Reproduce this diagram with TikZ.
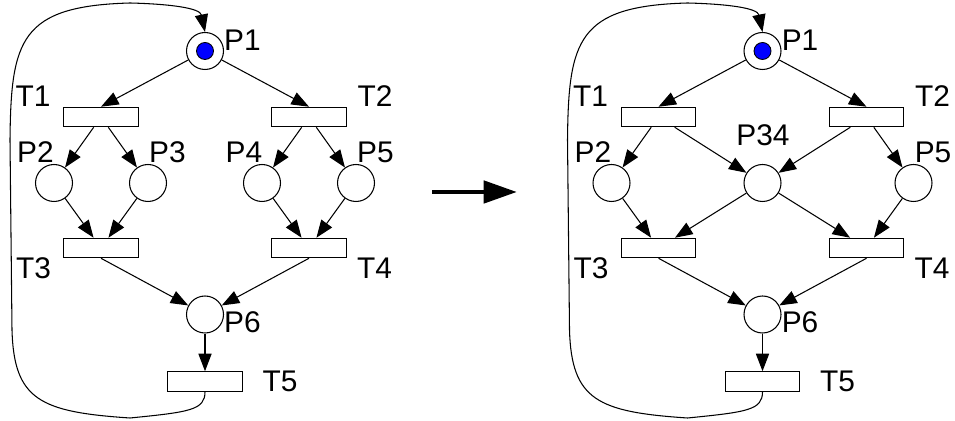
\documentclass[tikz,border=0pt]{standalone}
\usepackage{fontspec}
\setmainfont{Liberation Sans}
\usetikzlibrary{arrows.meta}
\tikzset{
    place/.style={circle, draw, line width=0.6pt, minimum size=7.4mm, inner sep=0},
    trans/.style={rectangle, draw, line width=0.6pt, minimum width=14.9mm, minimum height=3.9mm, inner sep=0},
    token/.style={circle, draw, fill=blue, line width=0.5pt, minimum size=3.4mm, inner sep=0},
    lbl/.style={inner sep=0, font=\fontsize{17}{20}\selectfont},
    post/.style={-{Triangle[length=10pt,width=7.5pt]}, line width=0.6pt},
  }

\begin{document}
\begin{tikzpicture}[x=0.02cm, y=-0.02cm]
  \useasboundingbox (0,0) rectangle (955,421);

  % net before merging
  \node (l-p1) [place] at (205,51) {};
  \node (l-tok) [token] at (l-p1) {};
  \node (l-t1) [trans] at (101,117) {};
  \node (l-t2) [trans] at (309,117) {};
  \node (l-p2) [place] at (54,183) {};
  \node (l-p3) [place] at (148,183) {};
  \node (l-p4) [place] at (262,183) {};
  \node (l-p5) [place] at (356,183) {};
  \node (l-t3) [trans] at (101,248) {};
  \node (l-t4) [trans] at (309,248) {};
  \node (l-p6) [place] at (205,314.5) {};
  \node (l-t5) [trans] at (205,381.5) {};

  \node (l-p1-lbl) [lbl] at (242.5,40) {P1};
  \node (l-t1-lbl) [lbl] at (33,96.5) {T1};
  \node (l-t2-lbl) [lbl] at (375,96.5) {T2};
  \node (l-p2-lbl) [lbl] at (35.5,152.5) {P2};
  \node (l-p3-lbl) [lbl] at (167.5,152.5) {P3};
  \node (l-p4-lbl) [lbl] at (244,152.5) {P4};
  \node (l-p5-lbl) [lbl] at (375.5,152.5) {P5};
  \node (l-t3-lbl) [lbl] at (33.5,268) {T3};
  \node (l-t4-lbl) [lbl] at (374.5,268) {T4};
  \node (l-p6-lbl) [lbl] at (242.5,322) {P6};
  \node (l-t5-lbl) [lbl] at (280,381) {T5};

  \draw [post] (l-p1) -- (l-t1.north);
  \draw [post] (l-p1) -- (l-t2.north);
  \draw [post] (l-t1) -- (l-p2);
  \draw [post] (l-t1) -- (l-p3);
  \draw [post] (l-t2) -- (l-p4);
  \draw [post] (l-t2) -- (l-p5);
  \draw [post] (l-p2) -- (l-t3);
  \draw [post] (l-p3) -- (l-t3);
  \draw [post] (l-p4) -- (l-t4);
  \draw [post] (l-p5) -- (l-t4);
  \draw [post] (l-t3.south) -- (l-p6);
  \draw [post] (l-t4.south) -- (l-p6);
  \draw [post] (l-p6) -- (l-t5);
  \draw [post] (l-t5.south) .. controls (205,410) and (190,412) .. (130,418)
    .. controls (40,412) and (14,400) .. (12,330) -- (10,140)
    .. controls (11,40) and (20,6) .. (130,3)
    .. controls (170,4) and (200,8) .. (l-p1.north);

  % the step between the two nets
  \coordinate (go-from) at (432,192);
  \coordinate (go-to) at (517,192);
  \draw [line width=2.8pt, -{Triangle[length=19pt,width=12.5pt]}] (go-from) -- (go-to);

  % net with P3 and P4 merged
  \begin{scope}[shift={(557.5,0)}]
    \node (r-p1) [place] at (205,51) {};
    \node (r-tok) [token] at (r-p1) {};
    \node (r-t1) [trans] at (101,117) {};
    \node (r-t2) [trans] at (309,117) {};
    \node (r-p2) [place] at (54,183) {};
    \node (r-p34) [place] at (205,183) {};
    \node (r-p5) [place] at (356,183) {};
    \node (r-t3) [trans] at (101,248) {};
    \node (r-t4) [trans] at (309,248) {};
    \node (r-p6) [place] at (205,314.5) {};
    \node (r-t5) [trans] at (205,381.5) {};

    \node (r-p1-lbl) [lbl] at (242.5,40) {P1};
    \node (r-t1-lbl) [lbl] at (33,96.5) {T1};
    \node (r-t2-lbl) [lbl] at (375,96.5) {T2};
    \node (r-p2-lbl) [lbl] at (35.5,152.5) {P2};
    \node (r-p34-lbl) [lbl] at (205.5,135.5) {P34};
    \node (r-p5-lbl) [lbl] at (375.5,152.5) {P5};
    \node (r-t3-lbl) [lbl] at (33.5,268) {T3};
    \node (r-t4-lbl) [lbl] at (374.5,268) {T4};
    \node (r-p6-lbl) [lbl] at (242.5,322) {P6};
    \node (r-t5-lbl) [lbl] at (280,381) {T5};

    \draw [post] (r-p1) -- (r-t1.north);
    \draw [post] (r-p1) -- (r-t2.north);
    \draw [post] (r-t1) -- (r-p2);
    \draw [post] (r-t1) -- (r-p34);
    \draw [post] (r-t2) -- (r-p34);
    \draw [post] (r-t2) -- (r-p5);
    \draw [post] (r-p2) -- (r-t3);
    \draw [post] (r-p34) -- (r-t3);
    \draw [post] (r-p34) -- (r-t4);
    \draw [post] (r-p5) -- (r-t4);
    \draw [post] (r-t3.south) -- (r-p6);
    \draw [post] (r-t4.south) -- (r-p6);
    \draw [post] (r-p6) -- (r-t5);
    \draw [post] (r-t5.south) .. controls (205,410) and (190,412) .. (130,418)
      .. controls (40,412) and (14,400) .. (12,330) -- (10,140)
      .. controls (11,40) and (20,6) .. (130,3)
      .. controls (170,4) and (200,8) .. (r-p1.north);
  \end{scope}
\end{tikzpicture}
\end{document}
